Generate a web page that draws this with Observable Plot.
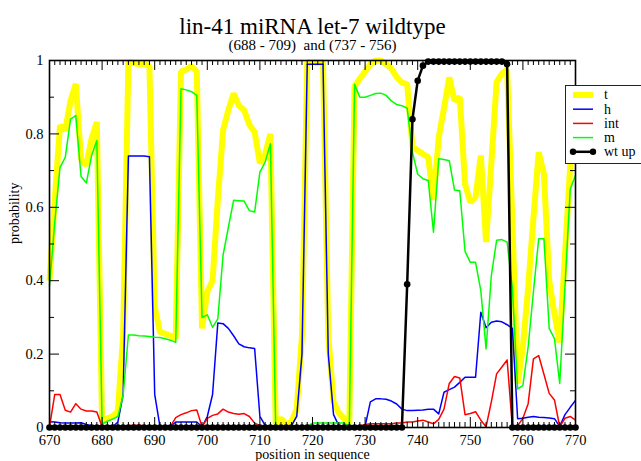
<!DOCTYPE html>
<html><head><meta charset="utf-8">
<script src="https://cdn.jsdelivr.net/npm/d3@7"></script>
<script src="https://cdn.jsdelivr.net/npm/@observablehq/plot@0.6"></script>
<style>
body{margin:0;background:#fff;}
#chart{position:relative;width:641px;height:461px;overflow:hidden;}
svg text{white-space:pre;}
</style></head><body><div id="chart"></div>
<script>
const positions = d3.range(670, 771);

const t = [0.40,0.62,0.823,0.81,0.89,0.936,0.73,0.714,0.787,0.832,
0.015,0.025,0.03,0.045,0.25,0.995,0.993,0.99,0.99,0.985,
0.33,0.26,0.255,0.25,0.243,0.97,0.975,0.985,0.97,0.27,
0.37,0.40,0.62,0.81,0.865,0.91,0.877,0.865,0.825,0.805,
0.72,0.745,0.80,0.01,0.025,0.008,0.015,0.05,0.25,0.995,
0.995,0.995,0.995,0.25,0.07,0.04,0.025,0.01,0.93,0.95,
0.97,0.99,1.0,1.0,0.99,0.978,0.955,0.94,0.935,0.765,
0.755,0.745,0.737,0.62,0.79,0.87,0.954,0.89,0.90,0.664,
0.614,0.627,0.741,0.505,0.72,0.941,0.964,0.975,0.56,0.12,
0.22,0.38,0.57,0.75,0.69,0.40,0.31,0.232,0.47,0.714,
0.76];

const h = [0.016,0.015,0.013,0.012,0.012,0.012,0.013,0.008,0.005,0.004,
0.003,0.002,0.002,0.015,0.09,0.74,0.74,0.74,0.74,0.738,
0.09,0.003,0.003,0.003,0.015,0.015,0.015,0.015,0.015,0.002,
0.03,0.09,0.285,0.283,0.27,0.25,0.228,0.22,0.217,0.215,
0.03,0.006,0.003,0.003,0.003,0.003,0.005,0.03,0.2,0.99,
0.99,0.99,0.99,0.2,0.035,0.005,0.003,0.003,0.003,0.003,
0.003,0.07,0.078,0.078,0.077,0.072,0.064,0.05,0.046,0.046,
0.047,0.048,0.05,0.05,0.037,0.096,0.103,0.11,0.123,0.137,
0.137,0.137,0.314,0.272,0.287,0.29,0.288,0.28,0.27,0.024,
0.025,0.028,0.03,0.028,0.027,0.026,0.024,0.003,0.035,0.055,
0.074];

const int = [0.002,0.09,0.09,0.047,0.042,0.065,0.05,0.045,0.045,0.042,
0.002,0.003,0.003,0.003,0.004,0.005,0.006,0.006,0.005,0.003,
0.002,0.002,0.002,0.003,0.027,0.035,0.04,0.046,0.048,0.002,
0.025,0.033,0.037,0.05,0.042,0.038,0.036,0.038,0.03,0.012,
0.005,0.003,0.003,0.003,0.004,0.003,0.003,0.003,0.004,0.003,
0.003,0.003,0.003,0.004,0.003,0.003,0.003,0.003,0.003,0.004,
0.008,0.01,0.01,0.01,0.01,0.01,0.012,0.012,0.015,0.015,
0.018,0.02,0.015,0.01,0.022,0.05,0.12,0.139,0.135,0.035,
0.038,0.043,0.02,0.002,0.07,0.146,0.165,0.184,0.002,0.005,
0.025,0.065,0.187,0.196,0.145,0.093,0.075,0.002,0.025,0.03,
0.02];

const m = [0.386,0.56,0.709,0.736,0.84,0.85,0.684,0.666,0.741,0.782,
0.01,0.017,0.023,0.03,0.088,0.252,0.252,0.25,0.249,0.248,
0.246,0.245,0.242,0.238,0.232,0.923,0.92,0.915,0.905,0.30,
0.307,0.273,0.296,0.47,0.545,0.619,0.618,0.617,0.591,0.587,
0.696,0.723,0.773,0.003,0.004,0.004,0.004,0.004,0.004,0.004,
0.012,0.012,0.012,0.012,0.012,0.012,0.012,0.003,0.935,0.90,
0.90,0.905,0.91,0.911,0.905,0.89,0.88,0.877,0.87,0.75,
0.69,0.678,0.673,0.532,0.732,0.73,0.727,0.647,0.645,0.48,
0.45,0.45,0.373,0.214,0.414,0.51,0.512,0.505,0.38,0.105,
0.114,0.22,0.37,0.514,0.514,0.27,0.242,0.12,0.385,0.65,
0.687];

const wtUp = [0,0,0,0,0,0,0,0,0,0,
0,0,0,0,0,0,0,0,0,0,
0,0,0,0,0,0,0,0,0,0,
0,0,0,0,0,0,0,0,0,0,
0,0,0,0,0,0,0,0,0,0,
0,0,0,0,0,0,0,0,0,0,
0,0,0,0,0,0,0,0,0.39,0.84,
0.945,0.986,0.997,0.997,0.997,0.997,0.997,0.997,0.997,0.997,
0.997,0.997,0.997,0.997,0.997,0.997,0.997,0.99,0,0,
0,0,0,0,0,0,0,0,0,0,
0];

const seriesNames = ["t", "h", "int", "m", "wt up"];
const seriesColors = ["#ffff00", "#0000ff", "#ff0000", "#00ff00", "#000000"];
const seriesWidths = [6, 1.5, 1.5, 1.5, 2.5];
const seriesValues = [t, h, int, m, wtUp];

const xTicksMajor = [670, 680, 690, 700, 710, 720, 730, 740, 750, 760, 770];
const yTicksMajor = [0, 0.2, 0.4, 0.6, 0.8, 1];
const yTickLabels = ["0", "0.2", "0.4", "0.6", "0.8", "1"];
const yTicksMinor = [0.1, 0.3, 0.5, 0.7, 0.9];
const xTicksMinor = positions.filter(p => !xTicksMajor.includes(p));

const title = "lin-41 miRNA let-7 wildtype";
const subtitle = "(688 - 709)  and (737 - 756)";
const xLabel = "position in sequence";
const yLabel = "probability";

const tables = seriesValues.map((vals, k) => vals.map((v, i) => ({pos: positions[i], value: v, series: seriesNames[k]})));

const W = 641, H = 461, mL = 49, mR = 66, mT = 60, mB = 34;
const fw = W - mL - mR, fh = H - mT - mB;
const font = "'Liberation Serif', 'Times New Roman', serif";

const lineMarks = tables.map((tb, k) => Plot.line(tb, {
  x: "pos", y: "value", stroke: seriesColors[k], strokeWidth: seriesWidths[k],
  strokeLinejoin: k === 0 ? "miter" : "round", strokeLinecap: "butt"
}));

const plot = Plot.plot({
  width: W, height: H,
  marginLeft: mL, marginRight: mR, marginTop: mT, marginBottom: mB,
  x: {domain: [670, 770]},
  y: {domain: [0, 1]},
  style: {fontFamily: font, fontSize: "14px", background: "white", color: "black"},
  marks: [
    ...lineMarks,
    Plot.dot(tables[4], {x: "pos", y: "value", r: 3.3, fill: "black", stroke: "none"}),
    Plot.frame({stroke: "black", strokeWidth: 1.6}),
    Plot.ruleX(xTicksMajor, {insetTop: fh - 10, stroke: "black"}),
    Plot.ruleX(xTicksMinor, {insetTop: fh - 5, stroke: "black"}),
    Plot.ruleX(xTicksMajor, {insetBottom: fh - 10, stroke: "black"}),
    Plot.ruleX(xTicksMinor, {insetBottom: fh - 5, stroke: "black"}),
    Plot.ruleY(yTicksMajor, {insetRight: fw - 10, stroke: "black"}),
    Plot.ruleY(yTicksMinor, {insetRight: fw - 5, stroke: "black"}),
    Plot.ruleY(yTicksMajor, {insetLeft: fw - 10, stroke: "black"}),
    Plot.ruleY(yTicksMinor, {insetLeft: fw - 5, stroke: "black"}),
    Plot.axisX(xTicksMajor, {tickSize: 0, tickPadding: 7, label: null, fontSize: 14.5, tickFormat: d => String(d)}),
    Plot.axisY(yTicksMajor, {tickSize: 0, tickPadding: 6, label: null, fontSize: 14.5,
      tickFormat: d => yTickLabels[yTicksMajor.indexOf(d)]}),
    Plot.text([xLabel], {text: d => d, frameAnchor: "bottom", dy: 31, fontSize: 14}),
    Plot.text([yLabel], {text: d => d, frameAnchor: "left", dx: -35, rotate: -90, fontSize: 14}),
    Plot.text([title], {text: d => d, frameAnchor: "top", dy: -43, fontSize: 23}),
    Plot.text([subtitle], {text: d => d, frameAnchor: "top", dy: -21, fontSize: 15})
  ]
});

document.getElementById("chart").appendChild(plot);

// legend
const svg = d3.select(plot);
const lg = svg.append("g").attr("font-family", font).attr("font-size", 14).attr("text-anchor", "start");
const lx = 565, ly = 85, lw = 80, lh = 78;
lg.append("rect").attr("x", lx + 0.5).attr("y", ly + 0.5).attr("width", lw).attr("height", lh)
  .attr("fill", "white").attr("stroke", "#222").attr("stroke-width", 1);
seriesNames.forEach((name, k) => {
  const yy = ly + 10 + k * 14.2;
  lg.append("line").attr("x1", 573).attr("x2", 593).attr("y1", yy).attr("y2", yy)
    .attr("stroke", seriesColors[k]).attr("stroke-width", seriesWidths[k]);
  if (k === 4) {
    [573, 593].forEach(cx => lg.append("circle").attr("cx", cx).attr("cy", yy).attr("r", 3.2).attr("fill", "black"));
  }
  lg.append("text").attr("x", 604).attr("y", yy).attr("dy", "0.32em").attr("fill", "black")
    .attr("text-anchor", "start").text(name);
});
</script></body></html>
